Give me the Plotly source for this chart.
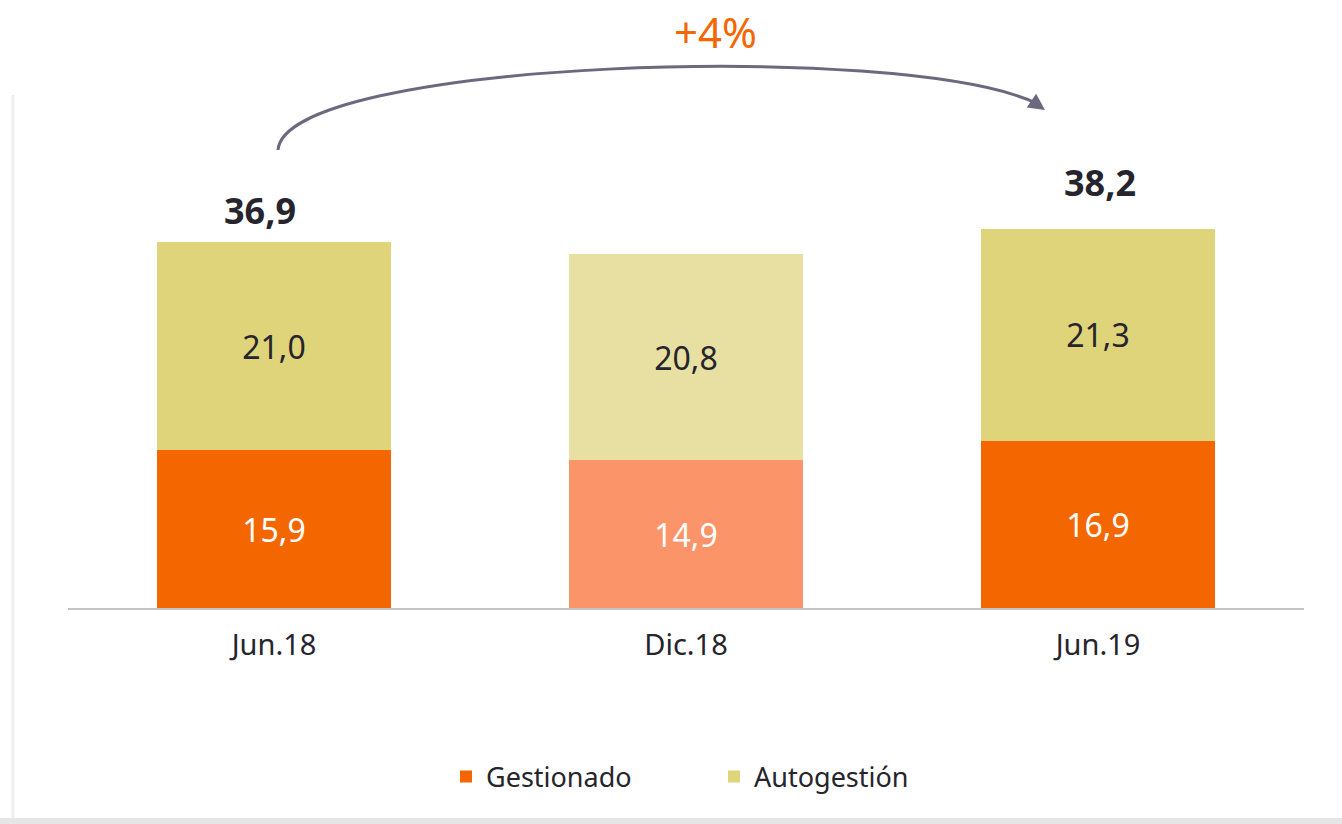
import plotly.graph_objects as go

# ---------------- data ----------------
categories = ["Jun.18", "Dic.18", "Jun.19"]
gestionado = [15.9, 14.9, 16.9]
autogestion = [21.0, 20.8, 21.3]
totals_shown = ["36,9", None, "38,2"]
growth_label = "+4%"

# ---------------- styling ----------------
W, H = 1342, 824
ML, MR, MT, MB = 68, 38, 0, 216
PW, PH = W - ML - MR, H - MT - MB
PX_PER_UNIT = 9.91
YMAX = PH / PX_PER_UNIT

orange = ["#F46700", "#FC946A", "#F46700"]
yellow = ["#DFD479", "#E8E0A2", "#DFD479"]
DARK = "#26242C"
FONT = "Noto Sans"


def fmt(v):
    return f"{v:.1f}".replace(".", ",")


def px2paper(px, py):
    return (px - ML) / PW, (H - MB - py) / PH


fig = go.Figure()
fig.add_trace(go.Bar(
    x=categories, y=gestionado, name="Gestionado",
    marker=dict(color=orange, line=dict(width=0)),
    text=[fmt(v) for v in gestionado], textposition="inside",
    insidetextanchor="middle",
    textfont=dict(color="white", size=32, family=FONT),
    width=0.57, hoverinfo="skip",
))
fig.add_trace(go.Bar(
    x=categories, y=autogestion, name="Autogestión",
    marker=dict(color=yellow, line=dict(width=0)),
    text=[fmt(v) for v in autogestion], textposition="inside",
    insidetextanchor="middle",
    textfont=dict(color=DARK, size=32, family=FONT),
    width=0.57, hoverinfo="skip",
))

# total labels
total_shift = {0: (-14, 32), 2: (2, 47)}
for i, lab in enumerate(totals_shown):
    if lab is None:
        continue
    tot = gestionado[i] + autogestion[i]
    dx, dy = total_shift[i]
    fig.add_annotation(x=categories[i], y=tot, text=f"<b>{lab}</b>",
                       showarrow=False, yanchor="middle", xshift=dx, yshift=dy,
                       font=dict(size=36, color=DARK, family=FONT))

# curved arrow (paper coordinates)
pts = [(278, 150), (285, 60), (900, 40), (1036, 103)]
pp = [px2paper(*p) for p in pts]
path = "M {},{} C {},{} {},{} {},{}".format(*[c for p in pp for c in p])
fig.add_shape(type="path", path=path, xref="paper", yref="paper",
              line=dict(color="#6C687E", width=3))
hx, hy = px2paper(1045, 110)
fig.add_annotation(x=hx, y=hy, xref="paper", yref="paper", text="",
                   showarrow=True, ax=-13, ay=-9, arrowhead=2, arrowsize=1.1,
                   arrowwidth=3, arrowcolor="#6C687E")

# growth label placed in data units of the y axis
gx, _ = px2paper(715, 31)
fig.add_annotation(x=gx, y=(H - MB - 31) / PX_PER_UNIT, xref="paper", yref="y",
                   text=growth_label, showarrow=False, yanchor="middle",
                   font=dict(size=42, color="#F46700", family=FONT))

# card frame hints
lx, ly0 = px2paper(13, 95)
_, ly1 = px2paper(13, 818)
fig.add_shape(type="line", xref="paper", yref="paper", x0=lx, x1=lx, y0=ly0, y1=ly1,
              line=dict(color="#EEEEEE", width=3))
bx0, by0 = px2paper(0, 818)
bx1, by1 = px2paper(W, 824)
fig.add_shape(type="rect", xref="paper", yref="paper", x0=bx0, x1=bx1, y0=by1, y1=by0,
              line=dict(width=0), fillcolor="#E6E6E6")

lgx, lgy = px2paper(446, 777)
fig.update_layout(
    width=W, height=H,
    margin=dict(l=ML, r=MR, t=MT, b=MB, autoexpand=False),
    barmode="stack",
    paper_bgcolor="white", plot_bgcolor="white",
    font=dict(family=FONT, color=DARK),
    showlegend=True,
    hovermode=False,
    legend=dict(orientation="h", x=lgx, y=lgy, xanchor="left", yanchor="middle",
                font=dict(size=27, color=DARK, family=FONT),
                entrywidth=223, traceorder="normal"),
    xaxis=dict(showline=True, linecolor="#C4C4C4", linewidth=2, showgrid=False,
               ticks="", tickfont=dict(size=29, color=DARK, family=FONT),
               ticklabelstandoff=10, zeroline=False, fixedrange=True),
    yaxis=dict(range=[0, YMAX], visible=False, showgrid=False, zeroline=False,
               fixedrange=True),
)

fig.write_html("out.html", config={"displayModeBar": False},
               post_script="document.body.style.margin='0px';")
